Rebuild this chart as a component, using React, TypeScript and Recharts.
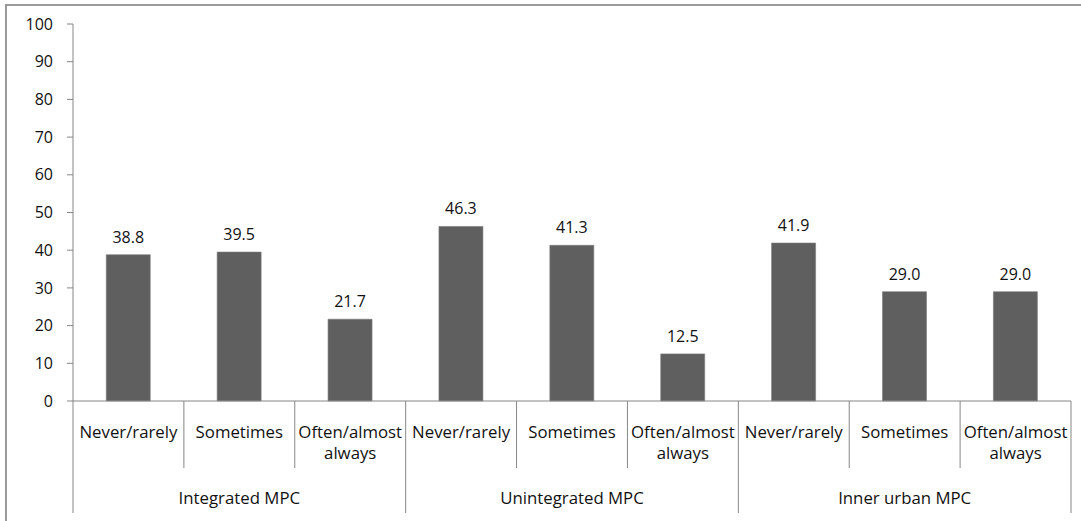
import React from 'react';
import { BarChart, Bar, XAxis, YAxis, LabelList } from 'recharts';

const categories = [
  'Never/rarely', 'Sometimes', 'Often/almost always',
  'Never/rarely', 'Sometimes', 'Often/almost always',
  'Never/rarely', 'Sometimes', 'Often/almost always',
];
const groups = [
  'Integrated MPC', 'Integrated MPC', 'Integrated MPC',
  'Unintegrated MPC', 'Unintegrated MPC', 'Unintegrated MPC',
  'Inner urban MPC', 'Inner urban MPC', 'Inner urban MPC',
];
const values = [38.8, 39.5, 21.7, 46.3, 41.3, 12.5, 41.9, 29.0, 29.0];
const yTicks = [0, 10, 20, 30, 40, 50, 60, 70, 80, 90, 100];

const data = categories.map((c, i) => ({ key: i, cat: c, group: groups[i], value: values[i] }));

const W = 1081;
const H = 521;
const M = { top: 24, right: 10, left: 0, bottom: 0 };
const Y_W = 73;
const X_H = 120;
const PLOT_W = W - M.left - M.right - Y_W;
const BW = PLOT_W / categories.length;
const FONT = '"Open Sans", Lato, sans-serif';
const FS = 16;
const FSX = 16.8;
const AXIS = '#868686';

const splitLabel = (s: string) => {
  if (s === 'Often/almost always') return ['Often/almost', 'always'];
  return [s];
};

const CatTick = (props: any) => {
  const { x, y, payload } = props;
  const i = payload.index;
  const lines = splitLabel(categories[i]);
  const left = x - BW / 2;
  const right = x + BW / 2;
  const isGroupStart = i % 3 === 0;
  const isLast = i === categories.length - 1;
  return (
    <g>
      <line x1={left} y1={y} x2={left} y2={y + (isGroupStart ? 112 : 67)} stroke={AXIS} strokeWidth={1} />
      {isLast && <line x1={right} y1={y} x2={right} y2={y + 112} stroke={AXIS} strokeWidth={1} />}
      {lines.map((l, k) => (
        <text key={k} x={x} y={y + 37 + k * 21} textAnchor="middle" fontSize={FSX} fontFamily={FONT} fill="#111">
          {l}
        </text>
      ))}
      {i % 3 === 1 && (
        <text x={x} y={y + 103} textAnchor="middle" fontSize={FSX} fontFamily={FONT} fill="#111">
          {groups[i]}
        </text>
      )}
    </g>
  );
};

export default function App() {
  return (
    <div style={{ position: 'absolute', left: 0, top: 0, width: W, height: H, overflow: 'hidden', background: '#fff' }}>
      <div style={{ position: 'absolute', left: 5, top: 4, width: W + 20, height: H + 20, border: '2px solid #9a9a9a', boxSizing: 'border-box' }} />
      <div style={{ position: 'absolute', left: 0, top: 0 }}>
        <BarChart width={W} height={H} data={data} margin={M} barCategoryGap="30%">
          <YAxis
            type="number"
            domain={[0, 100]}
            ticks={yTicks}
            interval={0}
            width={Y_W}
            stroke={AXIS}
            tickSize={6}
            tickMargin={14}
            tick={{ fill: '#111', fontSize: FS, fontFamily: FONT }}
            axisLine={{ stroke: AXIS }}
            tickLine={{ stroke: AXIS }}
          />
          <XAxis
            dataKey="key"
            type="category"
            interval={0}
            height={X_H}
            tickSize={0}
            tickMargin={0}
            tickLine={false}
            axisLine={{ stroke: AXIS }}
            tick={<CatTick />}
          />
          <Bar dataKey="value" fill="#5f5f5f" stroke="#7a7a7a" strokeWidth={0.6} isAnimationActive={false}>
            <LabelList
              dataKey="value"
              position="top"
              offset={12}
              formatter={(v: any) => Number(v).toFixed(1)}
              style={{ fill: '#111', fontSize: FS, fontFamily: FONT }}
            />
          </Bar>
        </BarChart>
      </div>
    </div>
  );
}
